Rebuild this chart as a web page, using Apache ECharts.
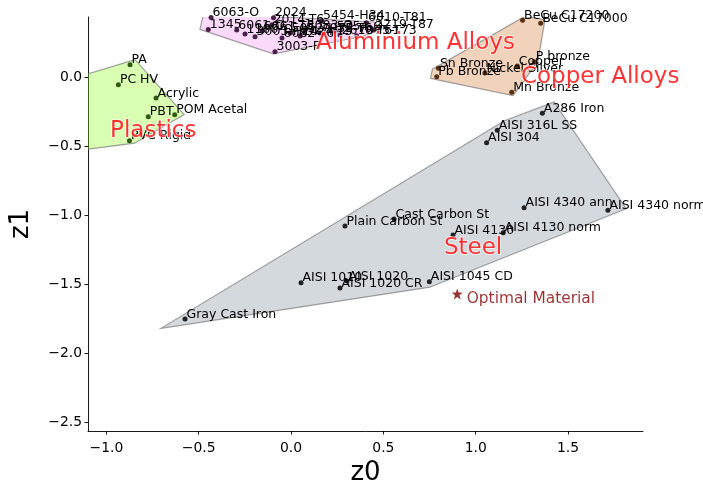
<!DOCTYPE html>
<html><head><meta charset="utf-8">
<script src="https://cdn.jsdelivr.net/npm/echarts@6/dist/echarts.min.js"></script>
<style>html,body{margin:0;padding:0;background:#fff}#c{width:703px;height:487px}</style>
</head><body><div id="c"></div>
<script>
// ---------------- data ----------------
const plasticsNames = ['PA', 'PC HV', 'Acrylic', 'PBT', 'POM Acetal', 'PVC Rigid', 'PTFE'];
const plasticsZ0 = [-0.872, -0.935, -0.731, -0.773, -0.630, -0.875, -3.19];
const plasticsZ1 = [0.089, -0.056, -0.152, -0.288, -0.273, -0.462, -0.86];

const aluminiumNames = ['6063-O', '1345', '6061-O', '2024', '2014-T6', '3003-F', '3003-H14', '5454-H34', '6010-T81', '2219-T87', '7075-T73', '6061-T6', '5052-H32', '5083-O', '1100-O', '7075-T6', '2024-T3', '6082-T6', '5754-O', '2618-T61'];
const aluminiumZ0 = [-0.433, -0.448, -0.294, -0.095, -0.103, -0.087, -0.195, 0.165, 0.409, 0.447, 0.355, -0.157, -0.005, 0.076, -0.249, 0.157, 0.049, -0.049, 0.238, 0.265];
const aluminiumZ1 = [0.431, 0.344, 0.341, 0.430, 0.379, 0.183, 0.292, 0.408, 0.393, 0.343, 0.299, 0.333, 0.319, 0.341, 0.312, 0.319, 0.297, 0.283, 0.333, 0.304];

const copperNames = ['BeCu C17200', 'BeCu C17000', 'P bronze', 'Copper', 'Nickel Silver', 'Sn Bronze', 'Pb Bronze', 'Mn Bronze'];
const copperZ0 = [1.254, 1.352, 1.317, 1.225, 1.050, 0.798, 0.789, 1.195];
const copperZ1 = [0.411, 0.389, 0.111, 0.080, 0.029, 0.063, 0.002, -0.111];

const steelNames = ['A286 Iron', 'AISI 316L SS', 'AISI 304', 'AISI 4340 ann', 'AISI 4340 norm', 'Cast Carbon St', 'AISI 4130 norm', 'AISI 4130', 'Plain Carbon St', 'AISI 1010', 'AISI 1020', 'AISI 1020 CR', 'AISI 1045 CD', 'Gray Cast Iron'];
const steelZ0 = [1.361, 1.117, 1.059, 1.262, 1.716, 0.558, 1.149, 0.877, 0.292, 0.054, 0.303, 0.265, 0.749, -0.574];
const steelZ1 = [-0.263, -0.386, -0.476, -0.947, -0.966, -1.029, -1.128, -1.145, -1.080, -1.491, -1.478, -1.529, -1.483, -1.754];

const groupTitles = ['Plastics', 'Aluminium Alloys', 'Copper Alloys', 'Steel'];
const groupTitleZ0 = [-0.980, 0.135, 1.245, 0.828];
const groupTitleZ1 = [-0.391, 0.246, 0.000, -1.239];

const optimalName = ['Optimal Material'];
const optimalZ0 = [0.900];
const optimalZ1 = [-1.572];

const xTicks = [-1.0, -0.5, 0.0, 0.5, 1.0, 1.5];
const yTicks = [-2.5, -2.0, -1.5, -1.0, -0.5, 0.0];

// ---------------- styling ----------------
const groups = [
  {names: plasticsNames, z0: plasticsZ0, z1: plasticsZ1, fill: 'rgba(127,255,0,0.3)', dot: '#2f5a12'},
  {names: aluminiumNames, z0: aluminiumZ0, z1: aluminiumZ1, fill: 'rgba(238,130,238,0.3)', dot: '#4a1f4a'},
  {names: copperNames, z0: copperZ0, z1: copperZ1, fill: 'rgba(210,105,30,0.3)', dot: '#5a2f12'},
  {names: steelNames, z0: steelZ0, z1: steelZ1, fill: 'rgba(112,128,144,0.3)', dot: '#222222'}
];

function convexHull(pts) {
  const p = pts.slice().sort((a, b) => a[0] - b[0] || a[1] - b[1]);
  const cross = (o, a, b) => (a[0] - o[0]) * (b[1] - o[1]) - (a[1] - o[1]) * (b[0] - o[0]);
  const lower = [], upper = [];
  for (const q of p) { while (lower.length >= 2 && cross(lower[lower.length - 2], lower[lower.length - 1], q) <= 0) lower.pop(); lower.push(q); }
  for (let i = p.length - 1; i >= 0; i--) { const q = p[i]; while (upper.length >= 2 && cross(upper[upper.length - 2], upper[upper.length - 1], q) <= 0) upper.pop(); upper.push(q); }
  upper.pop(); lower.pop();
  return lower.concat(upper);
}
function expandedHull(z0, z1, k) {
  const pts = z0.map((v, i) => [v, z1[i]]);
  const cx = z0.reduce((a, b) => a + b, 0) / z0.length;
  const cy = z1.reduce((a, b) => a + b, 0) / z1.length;
  return convexHull(pts).map(p => [cx + k * (p[0] - cx), cy + k * (p[1] - cy)]);
}

const FONT = 'DejaVu Sans';
const series = [];
groups.forEach((g, gi) => {
  const hull = expandedHull(g.z0, g.z1, 1.1);
  series.push({
    type: 'custom', coordinateSystem: 'cartesian2d', z: 1, silent: true, clip: true,
    data: [[g.z0[0], g.z1[0]]],
    renderItem: function (params, api) {
      const cs = params.coordSys;
      return {
        type: 'polygon',
        shape: {points: hull.map(p => api.coord(p))},
        style: {fill: g.fill, stroke: 'rgba(128,128,128,0.75)', lineWidth: 1.2},
        clipPath: {type: 'rect', shape: {x: cs.x, y: cs.y, width: cs.width, height: cs.height}}
      };
    }
  });
});
groups.forEach((g, gi) => {
  series.push({
    type: 'scatter', z: 3, clip: true, symbolSize: 5, silent: true,
    itemStyle: {color: g.dot, opacity: 1},
    data: g.names.map((n, i) => ({name: n, value: [g.z0[i], g.z1[i]]})),
    label: {show: true, formatter: p => p.name, position: [4, -2.2], align: 'left', verticalAlign: 'middle',
      fontFamily: FONT, fontSize: 12.5, color: '#000'},
    labelLayout: {hideOverlap: false}
  });
});
series.push({
  type: 'scatter', z: 4, symbol: 'path://M0,-10 L2.35,-3.24 L9.51,-3.09 L3.8,1.24 L5.88,8.09 L0,4 L-5.88,8.09 L-3.8,1.24 L-9.51,-3.09 L-2.35,-3.24 Z',
  symbolSize: 11, silent: true,
  itemStyle: {color: '#800000'},
  data: optimalName.map((n, i) => ({name: n, value: [optimalZ0[i], optimalZ1[i]]})),
  label: {show: true, formatter: p => p.name, position: [15, 11], align: 'left', verticalAlign: 'middle',
    fontFamily: FONT, fontSize: 15.4, color: '#800000'}
});
series.push({
  type: 'scatter', z: 5, symbolSize: 0, silent: true, clip: false,
  data: groupTitles.map((n, i) => ({name: n, value: [groupTitleZ0[i], groupTitleZ1[i]]})),
  label: {show: true, formatter: p => p.name, position: [0, 0], align: 'left', verticalAlign: 'middle',
    fontFamily: FONT, fontSize: 23, color: '#ff0000', textBorderColor: '#ffffff', textBorderWidth: 1.5}
});

const fmt = v => (v < 0 ? '\u2212' : '') + Math.abs(v).toFixed(1);
const axisCommon = {
  type: 'value', splitLine: {show: false},
  axisLine: {show: true, onZero: false, lineStyle: {color: '#000', width: 0.9}},
  axisTick: {show: true, length: 3.5, lineStyle: {color: '#000', width: 0.9}},
  nameLocation: 'middle',
  nameTextStyle: {fontFamily: FONT, fontSize: 26, color: '#000'}
};

const chart = echarts.init(document.getElementById('c'), null, {renderer: 'canvas'});
chart.setOption({
  animation: false,
  backgroundColor: '#fff',
  grid: {left: 88, right: 60, top: 17, bottom: 56, containLabel: false, outerBoundsMode: 'none'},
  xAxis: Object.assign({}, axisCommon, {
    min: -1.0995, max: 1.906, name: 'z0', nameGap: 24,
    axisTick: Object.assign({}, axisCommon.axisTick, {customValues: xTicks}),
    axisLabel: {customValues: xTicks, formatter: fmt, fontFamily: FONT, fontSize: 13.9, color: '#000', margin: 10}
  }),
  yAxis: Object.assign({}, axisCommon, {
    min: -2.565, max: 0.435, name: 'z1', nameGap: 54,
    axisTick: Object.assign({}, axisCommon.axisTick, {customValues: yTicks}),
    axisLabel: {customValues: yTicks, formatter: fmt, fontFamily: FONT, fontSize: 13.9, color: '#000', margin: 6}
  }),
  series: series
});
</script></body></html>
